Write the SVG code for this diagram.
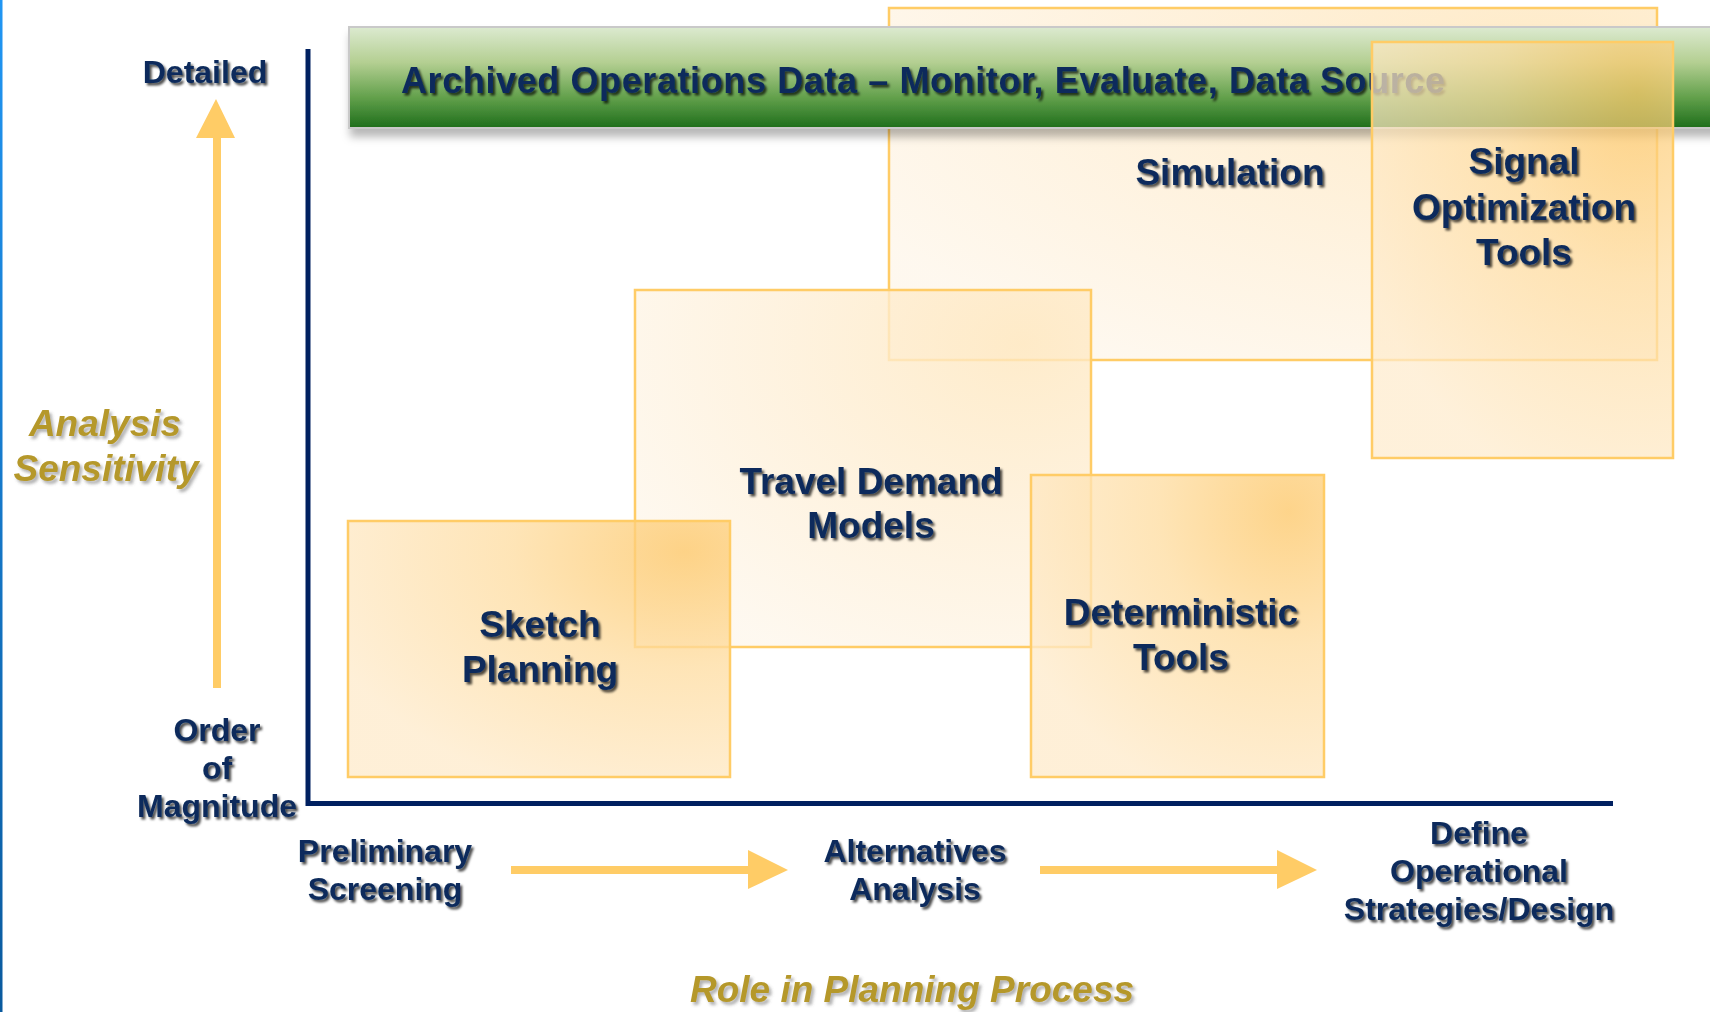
<svg xmlns="http://www.w3.org/2000/svg" width="1710" height="1012" viewBox="0 0 1710 1012">
  <defs>
    <style>
      .lbl { font-family: "Liberation Sans", Arial, sans-serif; font-weight: bold; fill: #0B2C5B; text-anchor: middle; filter: url(#txtShadow); }
      .box-lbl { font-size: 37px; }
      .axis-lbl { font-size: 32px; }
      .title { font-family: "Liberation Sans", Arial, sans-serif; font-weight: bold; font-style: italic; font-size: 37px; fill: #B5982B; text-anchor: middle; filter: url(#goldShadow); }
      .box { stroke: #FFCC66; stroke-width: 2.5; }
      .flow { fill: #FFCC66; }
      .axis { stroke: #002060; stroke-width: 5; fill: none; }
    </style>
    <filter id="txtShadow" x="-10%" y="-20%" width="130%" height="160%">
      <feDropShadow dx="2.2" dy="2.5" stdDeviation="1" flood-color="#000" flood-opacity="0.7"/>
    </filter>
    <filter id="goldShadow" x="-10%" y="-20%" width="130%" height="160%">
      <feDropShadow dx="2.5" dy="3" stdDeviation="1.6" flood-color="#555" flood-opacity="0.45"/>
    </filter>
    <filter id="bannerShadow" x="-5%" y="-20%" width="110%" height="160%">
      <feDropShadow dx="2" dy="8" stdDeviation="4" flood-color="#000" flood-opacity="0.28"/>
    </filter>
    <linearGradient id="edgeBlue" x1="0" y1="0" x2="0" y2="1">
      <stop offset="0" stop-color="#2196F3"/>
      <stop offset="1" stop-color="#0A5A9E"/>
    </linearGradient>
    <linearGradient id="bannerFill" x1="0" y1="0" x2="0" y2="1">
      <stop offset="0" stop-color="#DCEAD0"/>
      <stop offset="0.35" stop-color="#B4CF92"/>
      <stop offset="0.7" stop-color="#62A04B"/>
      <stop offset="1" stop-color="#1E6E1B"/>
    </linearGradient>
    <radialGradient id="warm" cx="0.88" cy="0.12" r="1.0">
      <stop offset="0" stop-color="#FDC86A"/>
      <stop offset="0.45" stop-color="#FEDDA2"/>
      <stop offset="1" stop-color="#FEEBCC"/>
    </radialGradient>
    <radialGradient id="pale" cx="0.85" cy="0.15" r="1.0">
      <stop offset="0" stop-color="#FEE7BE"/>
      <stop offset="0.5" stop-color="#FEEFD6"/>
      <stop offset="1" stop-color="#FEF7EC"/>
    </radialGradient>
  </defs>

  <rect x="0" y="0" width="1710" height="1012" fill="#FFFFFF"/>
  <rect x="0" y="0" width="2.5" height="1012" fill="url(#edgeBlue)"/>

  <!-- tool boxes, back to front -->
  <g id="simulation">
    <rect class="box" x="889" y="8" width="768" height="352" fill="url(#pale)" fill-opacity="0.85"/>
  </g>

  <g id="travel-demand">
    <rect class="box" x="635" y="290" width="456" height="357" fill="url(#pale)" fill-opacity="0.8"/>
  </g>

  <g id="archived-data">
    <rect x="349" y="27" width="1380" height="101" fill="url(#bannerFill)" stroke="#C9C9C9" stroke-width="2" filter="url(#bannerShadow)"/>
    <text class="lbl" x="401" y="93" font-size="36" text-anchor="start" textLength="1044" lengthAdjust="spacing" style="text-anchor:start">Archived Operations Data – Monitor, Evaluate, Data Source</text>
  </g>

  <g id="signal-optimization">
    <rect class="box" x="1372" y="42" width="301" height="416" fill="url(#warm)" fill-opacity="0.72"/>
    <text class="lbl box-lbl" x="1524" y="174">Signal</text>
    <text class="lbl box-lbl" x="1524" y="220">Optimization</text>
    <text class="lbl box-lbl" x="1524" y="265">Tools</text>
  </g>

  <g id="simulation-label">
    <text class="lbl box-lbl" x="1230" y="185">Simulation</text>
  </g>

  <g id="travel-demand-label">
    <text class="lbl box-lbl" x="871" y="494">Travel Demand</text>
    <text class="lbl box-lbl" x="871" y="538">Models</text>
  </g>

  <g id="sketch-planning">
    <rect class="box" x="348" y="521" width="382" height="256" fill="url(#warm)" fill-opacity="0.78"/>
    <text class="lbl box-lbl" x="540" y="637">Sketch</text>
    <text class="lbl box-lbl" x="540" y="682">Planning</text>
  </g>

  <g id="deterministic">
    <rect class="box" x="1031" y="475" width="293" height="302" fill="url(#warm)" fill-opacity="0.78"/>
    <text class="lbl box-lbl" x="1181" y="625">Deterministic</text>
    <text class="lbl box-lbl" x="1181" y="670">Tools</text>
  </g>

  <!-- axes and process arrows -->
  <g id="connectors">
    <path class="axis" d="M308,49 V803.5 H1613"/>
    <polygon class="flow" points="213,138 213,688 221,688 221,138 235,138 216,99 196,138"/>
    <polygon class="flow" points="511,866 748,866 748,850 788,870 748,889 748,874 511,874"/>
    <polygon class="flow" points="1040,866 1277,866 1277,850 1317,870 1277,889 1277,874 1040,874"/>
  </g>

  <!-- vertical axis labels -->
  <g id="sensitivity-axis">
    <text class="lbl axis-lbl" x="205" y="83">Detailed</text>
    <text class="title" x="105" y="436">Analysis</text>
    <text class="title" x="106" y="481">Sensitivity</text>
    <text class="lbl axis-lbl" x="217" y="741">Order</text>
    <text class="lbl axis-lbl" x="217" y="779">of</text>
    <text class="lbl axis-lbl" x="217" y="817">Magnitude</text>
  </g>

  <!-- planning process stages -->
  <g id="process-axis">
    <text class="lbl axis-lbl" x="385" y="862">Preliminary</text>
    <text class="lbl axis-lbl" x="385" y="900">Screening</text>
    <text class="lbl axis-lbl" x="915" y="862">Alternatives</text>
    <text class="lbl axis-lbl" x="915" y="900">Analysis</text>
    <text class="lbl axis-lbl" x="1479" y="844">Define</text>
    <text class="lbl axis-lbl" x="1479" y="882">Operational</text>
    <text class="lbl axis-lbl" x="1479" y="920">Strategies/Design</text>
    <text class="title" x="912" y="1002">Role in Planning Process</text>
  </g>
</svg>
